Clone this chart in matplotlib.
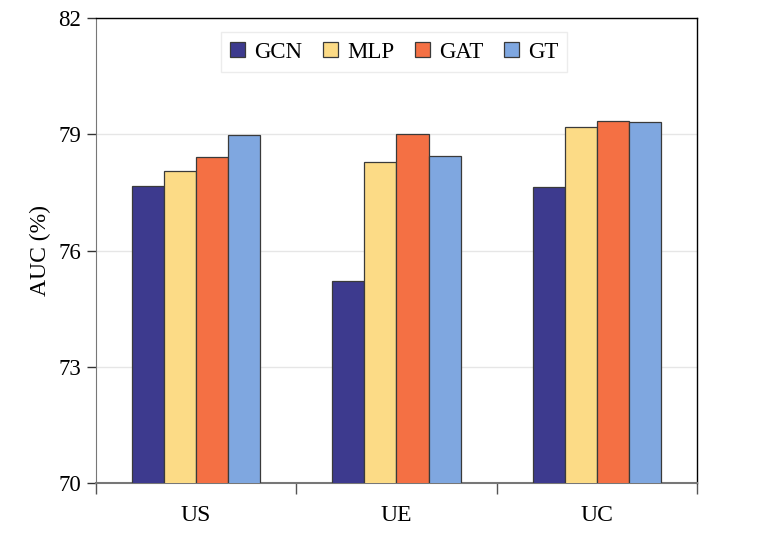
import matplotlib
matplotlib.use("Agg")
import matplotlib.pyplot as plt
import numpy as np

categories = ["US", "UE", "UC"]
models = ["GCN", "MLP", "GAT", "GT"]
gcn = [77.67, 75.21, 77.63]
mlp = [78.05, 78.28, 79.18]
gat = [78.41, 79.00, 79.35]
gt = [78.98, 78.43, 79.33]
colors = ["#3d3a8e", "#fcdb86", "#f47044", "#7fa7e0"]
yticks = [70, 73, 76, 79, 82]

plt.rcParams['font.family'] = ['Liberation Serif', 'DejaVu Serif']

fig = plt.figure(figsize=(7.61, 5.38), dpi=100)
ax = fig.add_axes([0.126, 0.102, 0.79, 0.8645])

series = [gcn, mlp, gat, gt]
x = np.arange(len(categories))
w = 0.16
for i, (vals, c, m) in enumerate(zip(series, colors, models)):
    ax.bar(x + (i - 1.5) * w, vals, width=w, color=c, edgecolor="#3a3a3a",
           linewidth=0.9, label=m, zorder=3)

ax.set_ylim(70, 82)
ax.set_xlim(-0.5, 2.5)
ax.set_yticks(yticks)
ax.set_yticklabels([str(t) for t in yticks], fontsize=16.5)
ax.set_xticks([-0.5, 0.5, 1.5, 2.5])
ax.set_xticklabels([])
ax.set_xticks(x, minor=True)
ax.set_xticklabels(categories, minor=True, fontsize=17)
ax.tick_params(axis='x', which='minor', length=0, pad=16)
ax.tick_params(axis='x', which='major', length=8, width=1.0, color="#555555", direction='out')
ax.tick_params(axis='y', length=6.5, width=1.0, color="#333333", direction='out', pad=4)
ax.yaxis.grid(True, color="#e6e6e6", linewidth=1.0, zorder=0)
ax.set_axisbelow(True)

ax.spines['left'].set_color("#777777")
ax.spines['bottom'].set_color("#777777")
ax.spines['bottom'].set_linewidth(1.5)
ax.spines['top'].set_color("black")
ax.spines['right'].set_color("black")
ax.spines['top'].set_linewidth(1.0)
ax.spines['right'].set_linewidth(1.0)

ax.set_ylabel("AUC (%)", fontsize=17, labelpad=5)

leg = ax.legend(loc='upper center', bbox_to_anchor=(0.496, 0.969), ncol=4,
                fontsize=16.5, frameon=True, fancybox=False, edgecolor="#e8e8e8",
                handlelength=0.65, handleheight=0.65, handletextpad=0.4,
                columnspacing=0.9, borderpad=0.4, borderaxespad=0)
leg.get_frame().set_linewidth(1.0)

fig.savefig("out.png", dpi=100)
